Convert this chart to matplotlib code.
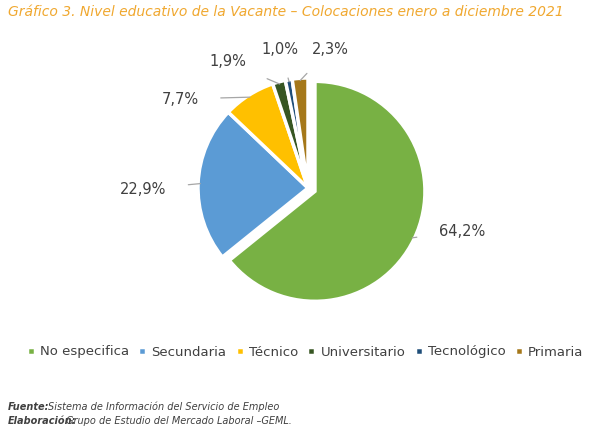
import matplotlib
matplotlib.use("Agg")
import matplotlib.pyplot as plt
import numpy as np

categories = ["No especifica", "Secundaria", "Técnico", "Universitario", "Tecnológico", "Primaria"]
values = [64.2, 22.9, 7.7, 1.9, 1.0, 2.3]
labels = ["64,2%", "22,9%", "7,7%", "1,9%", "1,0%", "2,3%"]
colors = ["#78b144", "#5b9bd5", "#ffc000", "#375623", "#1f4e79", "#a5781a"]
label_px = [(462, 231), (143, 189), (180, 99), (228, 62), (280, 49), (330, 49)]

fig = plt.figure(figsize=(6.04, 4.33), dpi=100)
cx, cy, R = 308, 188, 110
ax = fig.add_axes([(cx-140)/604, (433-cy-140)/433, 280/604, 280/433])
wedges, _ = ax.pie(values, colors=colors, startangle=90, counterclock=False,
                   explode=[0.07, 0, 0, 0, 0, 0], radius=1,
                   wedgeprops=dict(edgecolor="white", linewidth=2.5))
ax.set_xlim(-140/R, 140/R); ax.set_ylim(-140/R, 140/R)
ax.set_aspect("equal"); ax.axis("off")
for w, lab, (px, py) in zip(wedges, labels, label_px):
    ang = np.deg2rad((w.theta1 + w.theta2) / 2)
    cxw, cyw = w.center
    xy = (cxw + np.cos(ang)*0.98, cyw + np.sin(ang)*0.98)
    tx, ty = (px-cx)/R, (cy-py)/R
    ax.annotate(lab, xy=xy, xytext=(tx, ty), ha="center", va="center",
                fontsize=10.5, color="#404040",
                arrowprops=dict(arrowstyle="-", color="#a6a6a6", lw=0.9,
                                shrinkA=14, shrinkB=0))

fig.text(8/604, 1-12/433, "Gráfico 3. Nivel educativo de la Vacante – Colocaciones enero a diciembre 2021",
         color="#f0a830", style="italic", fontsize=10, va="center")
fig.legend(wedges, categories, loc="center", bbox_to_anchor=(305/604, 1-352/433),
           ncol=6, frameon=False, fontsize=9.5, handlelength=0.6, handleheight=0.6,
           columnspacing=0.7, handletextpad=0.4, labelcolor="#404040")
t1 = fig.text(8/604, 1-407/433, "Fuente:", fontsize=7, style="italic", weight="bold", color="#404040", va="center")
fig.text(48/604, 1-407/433, "Sistema de Información del Servicio de Empleo",
         fontsize=7, style="italic", color="#404040", va="center")
fig.text(8/604, 1-421/433, "Elaboración:", fontsize=7, style="italic", weight="bold", color="#404040", va="center")
fig.text(66/604, 1-421/433, "Grupo de Estudio del Mercado Laboral –GEML.",
         fontsize=7, style="italic", color="#404040", va="center")
fig.savefig("out.png", dpi=100, facecolor="white")
